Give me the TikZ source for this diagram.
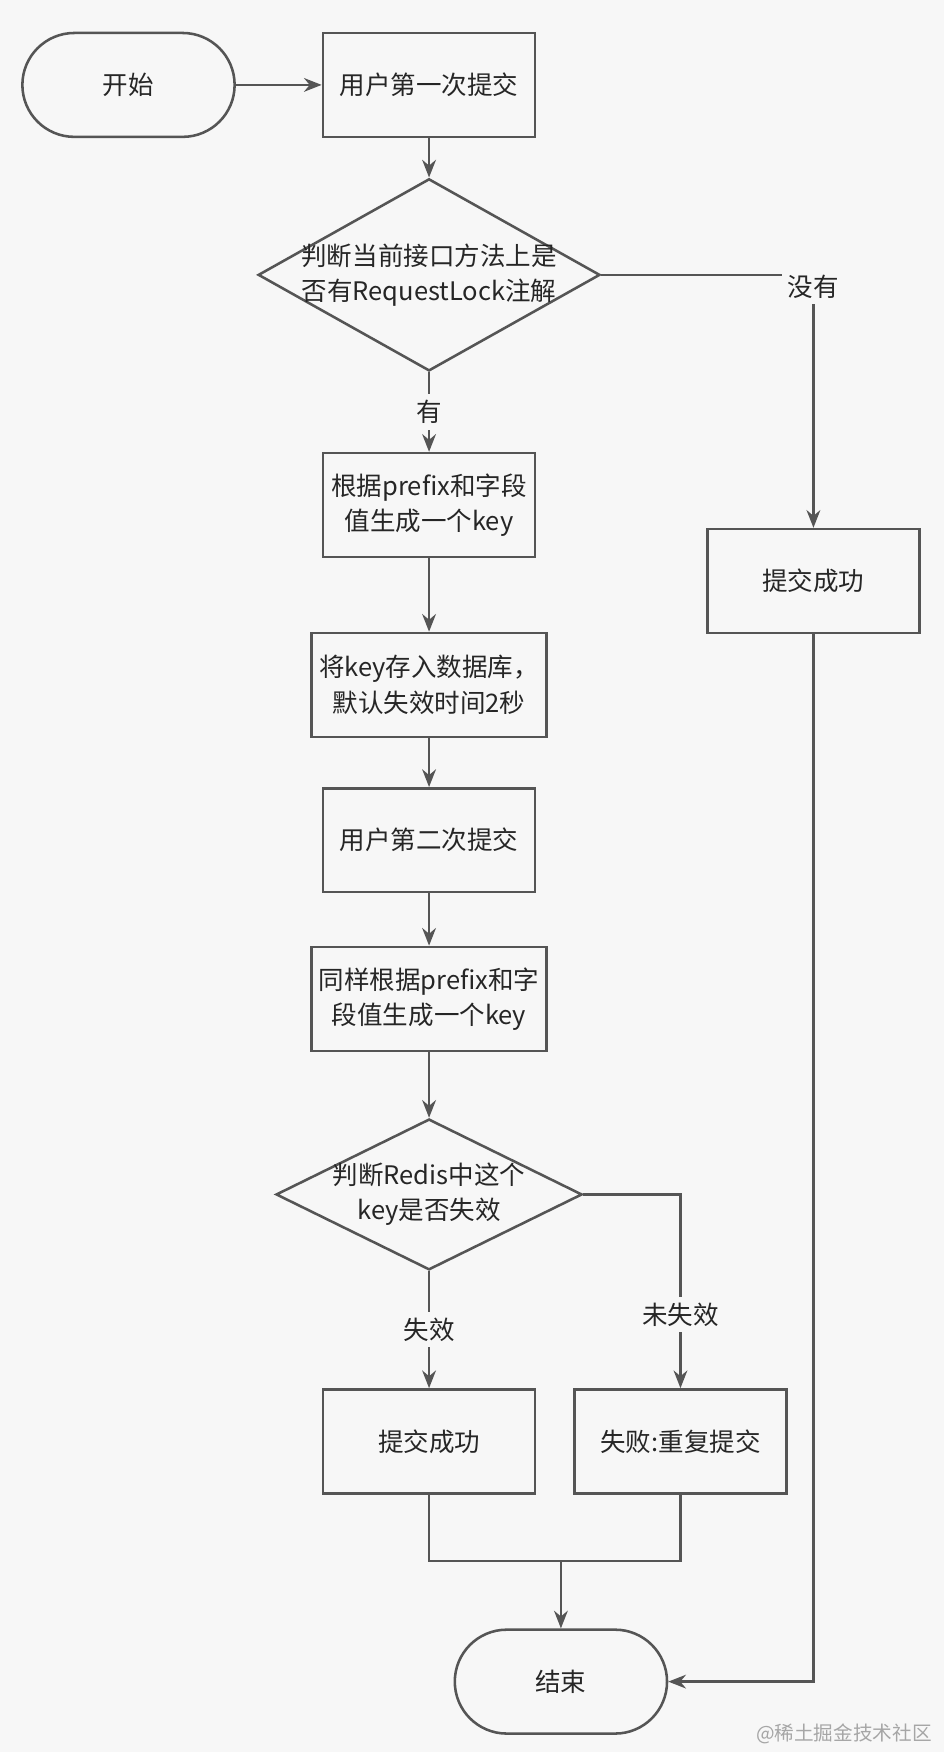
\documentclass[tikz,border=0pt]{standalone}
\usepackage{fontspec}
\setmainfont{Noto Sans CJK SC}
\usetikzlibrary{shapes.geometric,arrows.meta}
\definecolor{ln}{HTML}{555555}
\definecolor{bg}{HTML}{F7F7F7}
\begin{document}
\begin{tikzpicture}[x=0.02cm,y=-0.02cm,
  every node/.style={font=\fontsize{13}{18}\selectfont,text=black!85},
  box/.style={draw=ln,line width=1.3pt,minimum width=3.8cm,minimum height=1.86cm,align=center,inner sep=2pt},
  wbox/.style={box,minimum width=4.2cm},
  term/.style={draw=ln,line width=1.3pt,rounded corners=0.93cm,minimum width=3.8cm,minimum height=1.86cm},
  dia/.style={draw=ln,line width=1.3pt,diamond,aspect=1.8,inner sep=-14pt,align=center},
  lab/.style={fill=bg,inner sep=3pt},
  conn/.style={draw=ln,line width=1.3pt},
  arr/.style={conn,-{Stealth[length=9pt,width=7pt]}}]
\fill[bg] (0,0) rectangle (845,1568);
\useasboundingbox (0,0) rectangle (845,1568);
\node[term] (start) at (115,76) {开始};
\node[box] (b1) at (384,76) {用户第一次提交};
\node[dia,minimum width=6.12cm,minimum height=3.44cm] (d1) at (384,246) {判断当前接口方法上是\\否有RequestLock注解};
\node[box] (b2) at (384,452) {根据prefix和字段\\值生成一个key};
\node[wbox] (b3) at (384,613) {将key存入数据库，\\默认失效时间2秒};
\node[box] (b4) at (384,752) {用户第二次提交};
\node[wbox] (b5) at (384,894) {同样根据prefix和字\\段值生成一个key};
\node[dia,minimum width=5.48cm,minimum height=2.7cm] (d2) at (384,1069) {判断Redis中这个\\key是否失效};
\node[box] (b6) at (384,1290) {提交成功};
\node[box] (b7) at (609,1290) {失败:重复提交};
\node[box] (br) at (728,520) {提交成功};
\node[term] (end) at (502,1505) {结束};
\coordinate (m) at (502,1397);

\draw[arr] (start) -- (b1);
\draw[arr] (b1) -- (d1);
\draw[arr] (d1.south) -- node[lab] {有} (b2);
\draw[arr] (d1.east) -| node[lab,pos=0.523] {没有} (br);
\draw[arr] (b2) -- (b3);
\draw[arr] (b3) -- (b4);
\draw[arr] (b4) -- (b5);
\draw[arr] (b5) -- (d2);
\draw[arr] (d2.south) -- node[lab] {失效} (b6);
\draw[arr] (d2.east) -| node[lab,pos=0.81] {未失效} (b7);
\draw[conn] (b6.south) |- (m) -| (b7.south);
\draw[arr] (m) -- (end);
\draw[arr] (br.south) |- (end.east);
\node[text=black!35,font=\fontsize{10}{12}\selectfont,anchor=east] (wm) at (840,1552) {@稀土掘金技术社区};
\end{tikzpicture}
\end{document}
